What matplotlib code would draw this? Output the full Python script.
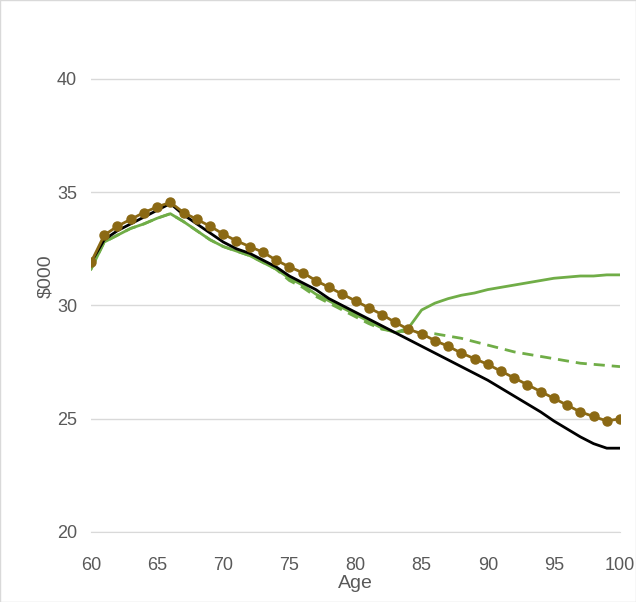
import matplotlib
matplotlib.use("Agg")
import matplotlib.pyplot as plt
import numpy as np

ages = list(range(60, 101))
black = [31.9,32.9,33.3,33.6,33.9,34.2,34.5,34.0,33.6,33.2,32.8,32.5,32.3,32.0,31.7,31.3,31.0,30.7,30.3,30.0,
         29.7,29.4,29.1,28.8,28.5,28.2,27.9,27.6,27.3,27.0,26.7,26.35,26.0,25.65,25.3,24.9,24.55,24.2,23.9,23.7,23.7]
brown = [31.9,33.1,33.5,33.8,34.1,34.35,34.55,34.1,33.8,33.5,33.15,32.85,32.6,32.35,32.0,31.7,31.45,31.1,30.8,30.5,
         30.2,29.9,29.6,29.25,28.95,28.75,28.45,28.2,27.9,27.65,27.4,27.1,26.8,26.5,26.2,25.9,25.6,25.3,25.1,24.9,25.0]
green = [31.6,32.8,33.1,33.4,33.6,33.85,34.05,33.7,33.3,32.9,32.6,32.4,32.2,31.9,31.6,31.2,30.9,30.5,30.2,29.9,
         29.6,29.3,29.0,28.8,29.0,29.8,30.1,30.3,30.45,30.55,30.7,30.8,30.9,31.0,31.1,31.2,31.25,31.3,31.3,31.35,31.35]
green_dash = [31.6,32.8,33.1,33.4,33.6,33.85,34.05,33.7,33.3,32.9,32.6,32.4,32.2,31.9,31.6,31.1,30.8,30.4,30.1,29.8,
              29.5,29.2,28.95,28.85,28.85,28.8,28.75,28.65,28.55,28.4,28.25,28.1,27.95,27.85,27.75,27.65,27.55,27.45,27.4,27.35,27.3]

plt.rcParams['font.family'] = ['Liberation Sans', 'DejaVu Sans']
fig = plt.figure(figsize=(6.36, 6.02), dpi=100)
ax = fig.add_axes([91/636, 1-532/602, (620-91)/636, (532-20)/602])
ax.plot(ages, black, color='black', lw=2, zorder=3)
ax.plot(ages, green_dash, color='#70ad47', lw=2, ls=(0, (4, 2.5)), zorder=2)
ax.plot(ages, green, color='#70ad47', lw=2, zorder=2)
ax.plot(ages, brown, color='#8b6914', lw=2, marker='o', ms=6.5, zorder=4)
ax.set_xlim(60, 100)
ax.set_ylim(20, 42.6)
ax.set_yticks([20, 25, 30, 35, 40])
ax.set_xticks(range(60, 101, 5))
ax.grid(axis='y', color='#d9d9d9', lw=1)
ax.set_axisbelow(True)
for s in ['top', 'right', 'left']:
    ax.spines[s].set_visible(False)
ax.spines['bottom'].set_color('#d9d9d9')
ax.tick_params(length=0, labelsize=13, colors='#595959')
ax.tick_params(axis='x', pad=18)
ax.tick_params(axis='y', pad=10)
ax.set_xlabel('Age', fontsize=14, color='#595959', labelpad=1)
ax.set_ylabel('$000', fontsize=14, color='#595959', labelpad=2)
fig.patches.append(plt.Rectangle((0, 0), 1, 1, transform=fig.transFigure, fill=False, ec='#d9d9d9', lw=1))
fig.savefig('out.png', dpi=100)
